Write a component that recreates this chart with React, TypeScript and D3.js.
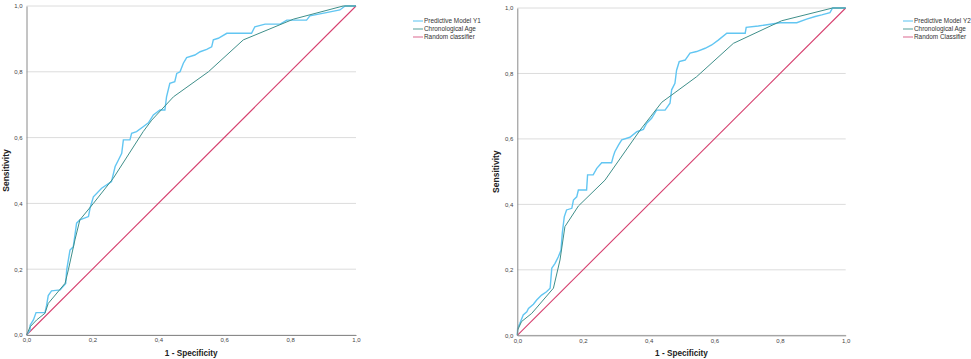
import React, { useEffect, useRef } from 'react'
import { select, scaleLinear, axisLeft, axisBottom, line } from 'd3'

type Pt = [number, number]

const ticks = [0, 0.2, 0.4, 0.6, 0.8, 1.0]

// left panel: Predictive Model Y1 vs chronological age
const modelY1: Pt[] = [
  [0, 0], [0.011, 0.015], [0.011, 0.03], [0.021, 0.046], [0.029, 0.068], [0.056, 0.068], [0.061, 0.09],
  [0.066, 0.12], [0.076, 0.134], [0.102, 0.137], [0.119, 0.157], [0.122, 0.198], [0.132, 0.258],
  [0.142, 0.268], [0.152, 0.34], [0.162, 0.35], [0.188, 0.36], [0.193, 0.386], [0.203, 0.42],
  [0.228, 0.446], [0.258, 0.466], [0.269, 0.512], [0.279, 0.532], [0.289, 0.552], [0.294, 0.593],
  [0.314, 0.593], [0.319, 0.613], [0.334, 0.618], [0.354, 0.633], [0.37, 0.645], [0.385, 0.669],
  [0.405, 0.684], [0.42, 0.684], [0.425, 0.724], [0.435, 0.765], [0.45, 0.77], [0.456, 0.795],
  [0.466, 0.8], [0.476, 0.826], [0.486, 0.843], [0.511, 0.851], [0.527, 0.861], [0.547, 0.868],
  [0.562, 0.876], [0.567, 0.897], [0.582, 0.902], [0.608, 0.917], [0.683, 0.917], [0.693, 0.937],
  [0.724, 0.945], [0.77, 0.945], [0.79, 0.957], [0.85, 0.957], [0.86, 0.97], [0.91, 0.98],
  [0.951, 0.988], [0.967, 1], [1, 1]
]
const ageLeft: Pt[] = [
  [0, 0], [0.011, 0.025], [0.031, 0.046], [0.056, 0.066], [0.066, 0.096], [0.117, 0.157],
  [0.127, 0.198], [0.147, 0.289], [0.162, 0.35], [0.203, 0.4], [0.263, 0.476], [0.354, 0.618],
  [0.38, 0.653], [0.446, 0.724], [0.552, 0.8], [0.658, 0.897], [0.81, 0.96], [0.961, 1], [1, 1]
]

// right panel: Predictive Model Y2 vs chronological age
const modelY2: Pt[] = [
  [0, 0], [0.001, 0.021], [0.008, 0.037], [0.018, 0.062], [0.029, 0.072], [0.034, 0.082],
  [0.049, 0.095], [0.059, 0.108], [0.074, 0.123], [0.089, 0.133], [0.1, 0.144], [0.105, 0.205],
  [0.115, 0.22], [0.125, 0.24], [0.133, 0.26], [0.137, 0.312], [0.143, 0.362], [0.15, 0.383],
  [0.166, 0.388], [0.171, 0.413], [0.181, 0.423], [0.186, 0.444], [0.211, 0.444], [0.214, 0.49],
  [0.231, 0.49], [0.242, 0.51], [0.257, 0.527], [0.287, 0.527], [0.292, 0.546], [0.297, 0.561],
  [0.308, 0.581], [0.318, 0.597], [0.343, 0.605], [0.364, 0.622], [0.384, 0.629], [0.394, 0.648],
  [0.409, 0.663], [0.424, 0.688], [0.45, 0.688], [0.465, 0.709], [0.47, 0.75], [0.48, 0.77],
  [0.485, 0.81], [0.493, 0.836], [0.511, 0.841], [0.526, 0.862], [0.546, 0.867], [0.572, 0.877],
  [0.592, 0.887], [0.612, 0.902], [0.638, 0.923], [0.694, 0.923], [0.697, 0.941], [0.734, 0.945],
  [0.8, 0.955], [0.851, 0.955], [0.881, 0.966], [0.907, 0.974], [0.927, 0.979], [0.952, 0.986],
  [0.96, 1], [1, 1]
]
const ageRight: Pt[] = [
  [0, 0], [0.001, 0.016], [0.013, 0.042], [0.044, 0.067], [0.11, 0.144], [0.13, 0.23],
  [0.145, 0.332], [0.186, 0.395], [0.267, 0.474], [0.374, 0.627], [0.44, 0.712], [0.546, 0.79],
  [0.658, 0.892], [0.805, 0.961], [0.96, 1], [1, 1]
]
const diagonal: Pt[] = [[0, 0], [1, 1]]

const legendLeft = ['Predictive Model Y1', 'Chronological Age', 'Random classifier']
const legendRight = ['Predictive Model Y2', 'Chronological Age', 'Random Classifier']

const colors = ['#62c6f2', '#3f8f8a', '#d6406f']
const legendColors = ['#8fd6f5', '#8cbfbb', '#e79ab5']

const font = 'Liberation Sans, Arial, sans-serif'
const fmt = (d: number) => d.toFixed(1).replace('.', ',')

interface PanelProps {
  x0: number
  x1: number
  y0: number
  y1: number
  model: Pt[]
  age: Pt[]
  legend: string[]
  legendX: number
}

const Panel = ({ x0, x1, y0, y1, model, age, legend, legendX }: PanelProps) => {
  const xRef = useRef<SVGGElement | null>(null)
  const yRef = useRef<SVGGElement | null>(null)
  const x = scaleLinear().domain([0, 1]).range([x0, x1])
  const y = scaleLinear().domain([0, 1]).range([y0, y1])
  const path = line<Pt>().x(d => x(d[0])).y(d => y(d[1]))

  useEffect(() => {
    if (xRef.current && yRef.current) {
      const xa = select(xRef.current)
        .call(axisBottom(x).tickValues(ticks).tickFormat(fmt as any).tickSizeInner(0).tickSizeOuter(0).tickPadding(3))
      xa.select('.domain').attr('stroke', '#8a8a8a')
      xa.selectAll('text').attr('font-size', 6).attr('font-family', font).attr('fill', '#444')
      const ya = select(yRef.current)
        .call(axisLeft(y).tickValues(ticks).tickFormat(fmt as any).tickSizeInner(0).tickSizeOuter(0).tickPadding(4))
      ya.select('.domain').attr('stroke', '#8a8a8a')
      ya.selectAll('text').attr('font-size', 6).attr('font-family', font).attr('fill', '#444')
    }
  }, [x0, x1, y0, y1])

  return (
    <g>
      {ticks.map(t => (
        <line key={t} x1={x0} x2={x1} y1={y(t)} y2={y(t)} stroke='#dcdcdc' strokeWidth={1} />
      ))}
      <path d={path(diagonal) ?? ''} fill='none' stroke={colors[2]} strokeWidth={1.1} />
      <path d={path(model) ?? ''} fill='none' stroke={colors[0]} strokeWidth={1.4} />
      <path d={path(age) ?? ''} fill='none' stroke={colors[1]} strokeWidth={1} />
      <g ref={xRef} transform={`translate(0,${y0})`} />
      <g ref={yRef} transform={`translate(${x0},0)`} />
      <text x={(x0 + x1) / 2} y={356} textAnchor='middle' fontSize={8.2} fontWeight={600} fontFamily={font} fill='#222'>
        1 - Specificity
      </text>
      <text transform={`translate(${x0 - 18},${(y0 + y1) / 2}) rotate(-90)`} textAnchor='middle' fontSize={8.5} fontWeight={600} fontFamily={font} fill='#222'>
        Sensitivity
      </text>
      {legend.map((label, i) => (
        <g key={label} transform={`translate(${legendX},${21 + i * 8})`}>
          <line x1={0} x2={10} y1={0} y2={0} stroke={legendColors[i]} strokeWidth={1.5} />
          <text x={11} y={2.3} fontSize={6.4} fontFamily={font} fill='#333'>{label}</text>
        </g>
      ))}
    </g>
  )
}

export default function App() {
  return (
    <svg width={971} height={359} style={{ position: 'absolute', left: 0, top: 0, background: '#fff' }}>
      <Panel x0={26.5} x1={356} y0={335} y1={6} model={modelY1} age={ageLeft} legend={legendLeft} legendX={413} />
      <Panel x0={517.3} x1={845.7} y0={335.3} y1={8} model={modelY2} age={ageRight} legend={legendRight} legendX={903} />
    </svg>
  )
}
